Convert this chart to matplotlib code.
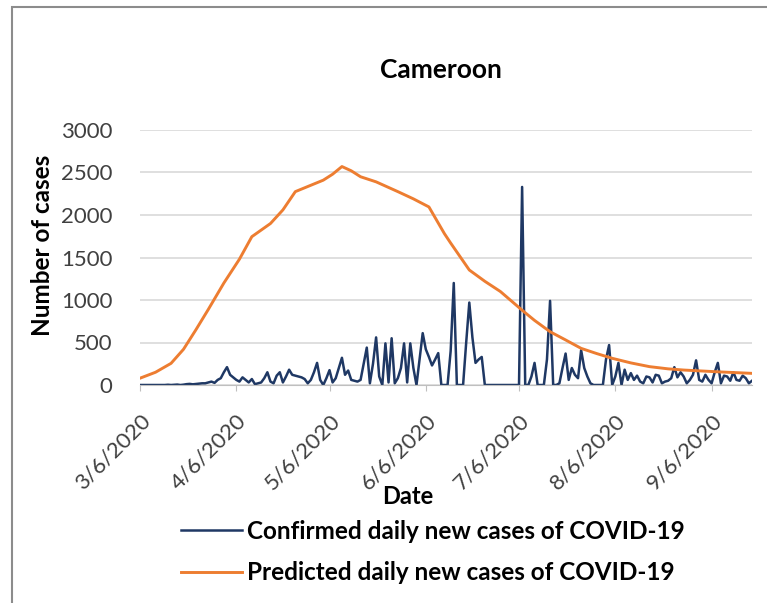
import matplotlib
matplotlib.use("Agg")
import matplotlib.pyplot as plt
import matplotlib.transforms as mtransforms
from matplotlib.patches import Rectangle
import pandas as pd

plt.rcParams["font.family"] = ["Lato", "DejaVu Sans"]

# data
start = "2020-03-06"
confirmed = [
    0, 0, 0, 0, 1, 0, 0, 0, 0, 3,
    0, 2, 5, 0, 4, 10, 13, 8, 12, 15,
    20, 20, 30, 40, 25, 60, 80, 150, 210, 120,
    90, 60, 40, 90, 60, 30, 70, 10, 20, 30,
    80, 150, 40, 20, 110, 150, 30, 100, 180, 120,
    110, 100, 90, 70, 20, 60, 150, 260, 60, 0,
    80, 175, 30, 80, 200, 320, 120, 170, 60, 50,
    40, 60, 250, 440, 20, 250, 560, 100, 0, 490,
    30, 550, 20, 80, 200, 490, 30, 490, 200, 0,
    300, 610, 420, 330, 230, 300, 375, 0, 0, 0,
    400, 1200, 0, 0, 0, 500, 970, 560, 260, 300,
    330, 0, 0, 0, 0, 0, 0, 0, 0, 0,
    0, 0, 0, 2330, 0, 0, 100, 260, 0, 0,
    0, 300, 990, 0, 0, 20, 200, 370, 60, 200,
    120, 80, 410, 200, 100, 20, 0, 0, 0, 0,
    300, 470, 0, 100, 260, 0, 180, 60, 140, 60,
    110, 40, 20, 100, 90, 30, 120, 110, 20, 40,
    50, 80, 210, 90, 150, 100, 20, 60, 120, 290,
    60, 40, 120, 60, 20, 150, 260, 20, 110, 100,
    50, 150, 60, 50, 110, 80, 20, 50,
]
pred_days = [0, 5, 10, 14, 18, 22, 27, 32, 36, 42, 46, 50, 55, 59, 62, 65, 68,
             71, 76, 83, 88, 93, 98, 100, 106, 111, 116, 123, 127, 132, 137,
             142, 147, 152, 158, 164, 170, 175, 186, 197]
predicted = [80, 150, 255, 420, 650, 890, 1200, 1480, 1745, 1900, 2060, 2275,
             2350, 2410, 2480, 2570, 2520, 2450, 2390, 2275, 2190, 2095, 1780,
             1670, 1353, 1220, 1100, 880, 760, 627, 530, 431, 370, 314, 260,
             216, 190, 176, 155, 137]
tick_dates = ["2020-03-06", "2020-04-06", "2020-05-06", "2020-06-06",
              "2020-07-06", "2020-08-06", "2020-09-06"]
tick_labels = ["3/6/2020", "4/6/2020", "5/6/2020", "6/6/2020",
               "7/6/2020", "8/6/2020", "9/6/2020"]

dates = pd.date_range(start, periods=len(confirmed), freq="D")
pred_dates = pd.Timestamp(start) + pd.to_timedelta(pred_days, unit="D")

W, H = 767, 603
fig = plt.figure(figsize=(W / 100, H / 100), dpi=100)
fig.patches.append(Rectangle((12 / W, -10 / H), 780 / W, (H + 3) / H, transform=fig.transFigure,
                             fill=False, edgecolor="#8c8c8c", linewidth=1.5))

ax = fig.add_axes([140 / W, 218 / H, 612 / W, 255 / H])
ax.plot(dates, confirmed, color="#1f3864", linewidth=1.8,
        label="Confirmed daily new cases of COVID-19")
ax.plot(pred_dates, predicted, color="#ed7d31", linewidth=2.1,
        label="Predicted daily new cases of COVID-19")

ax.set_ylim(0, 3000)
ax.set_yticks(range(0, 3001, 500))
ax.set_xlim(dates[0], dates[-1])
ax.set_xticks(pd.to_datetime(tick_dates))
ax.set_xticklabels(tick_labels, rotation=45, ha="right", rotation_mode="anchor")
offset = mtransforms.ScaledTranslation(5 / 100, 0, fig.dpi_scale_trans)
for lab in ax.get_xticklabels():
    lab.set_transform(lab.get_transform() + offset)

ax.grid(axis="y", color="#d9d9d9", linewidth=1.2)
ax.set_axisbelow(True)
for s in ["top", "right", "left"]:
    ax.spines[s].set_visible(False)
ax.spines["bottom"].set_color("#bfbfbf")
ax.tick_params(axis="y", length=0, labelsize=16, labelcolor="#404040", pad=20)
ax.tick_params(axis="x", length=4, color="#bfbfbf", labelsize=16,
               labelcolor="#404040", pad=14)

fig.text(441 / W, 1 - 70 / H, "Cameroon", ha="center", va="center",
         fontsize=19, fontweight="bold")
fig.text(43 / W, 1 - 245 / H, "Number of cases", ha="center", va="center",
         rotation=90, fontsize=17.5, fontweight="bold")
fig.text(408 / W, 1 - 497 / H, "Date", ha="center", va="center",
         fontsize=17, fontweight="bold")

handles, labels = ax.get_legend_handles_labels()
leg = fig.legend(handles, labels, loc="center", bbox_to_anchor=(433 / W, 1 - 552 / H),
                 frameon=False, fontsize=17.5, handlelength=2.5, handletextpad=0.2,
                 labelspacing=0.75, borderpad=0)
for t in leg.get_texts():
    t.set_fontweight("bold")

fig.savefig("out.png", dpi=100, facecolor="white")
